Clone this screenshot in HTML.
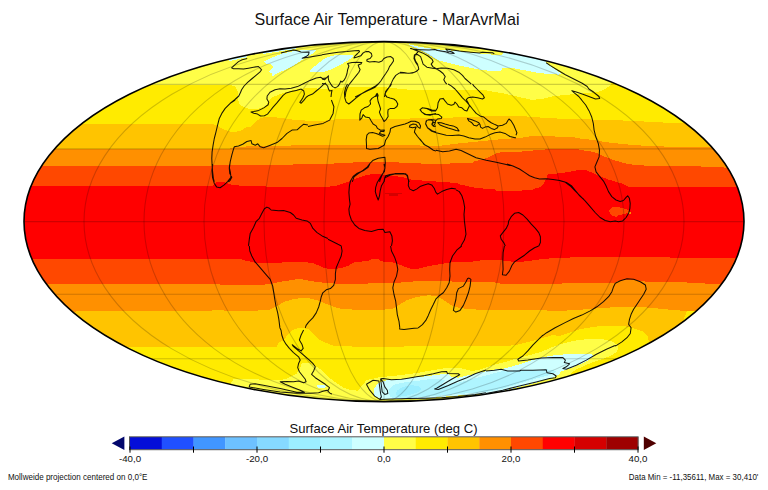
<!DOCTYPE html><html><head><meta charset="utf-8"><title>Surface Air Temperature</title>
<style>html,body{margin:0;padding:0;background:#fff;}svg{display:block;}text{font-family:"Liberation Sans",sans-serif;fill:#111;}</style></head><body>
<svg width="768" height="490" viewBox="0 0 768 490">
<rect width="768" height="490" fill="#fff"/>
<defs><clipPath id="c"><ellipse cx="384.0" cy="221.6" rx="360.0" ry="180.0"/></clipPath></defs>
<text x="387" y="24.6" font-size="16.2" text-anchor="middle" textLength="265" lengthAdjust="spacingAndGlyphs">Surface Air Temperature - MarAvrMai</text>
<g clip-path="url(#c)">
<g shape-rendering="crispEdges"><rect x="0" y="0" width="768" height="490" fill="#fffe47"/><polygon points="0.0,84.8 100.0,84.8 150.0,84.8 230.0,84.8 235.0,86.6 237.5,91.0 238.1,98.5 238.8,103.5 243.8,107.2 250.0,109.1 258.8,108.5 266.2,106.0 267.5,103.5 268.8,101.0 272.5,97.2 280.0,94.1 286.2,92.2 295.0,89.8 303.8,88.5 311.2,88.0 322.0,89.0 334.5,88.5 347.0,87.0 359.5,86.6 372.0,86.6 384.5,87.3 397.0,88.5 409.5,89.8 418.0,90.0 441.5,90.0 466.5,90.0 486.5,90.5 504.0,93.5 521.5,97.5 532.0,99.9 542.0,99.0 552.0,96.5 565.4,94.9 575.5,94.0 587.2,93.2 598.9,91.5 605.6,89.0 609.8,85.7 611.4,83.2 616.0,76.0 640.0,40.0 768.0,40.0 768.0,380.0 570.0,380.0 571.7,372.0 576.7,369.4 583.4,366.1 593.4,361.9 603.5,358.6 611.8,355.2 616.9,351.9 618.5,347.7 616.9,344.3 611.8,341.5 603.5,339.3 593.4,338.8 580.0,339.8 570.0,341.8 560.0,344.3 552.9,346.8 541.2,351.8 529.5,355.1 519.4,357.6 506.0,361.8 496.0,364.3 486.0,367.5 478.4,370.1 471.7,371.0 465.0,369.3 458.3,367.6 445.0,368.1 433.3,370.1 416.5,373.1 399.8,375.2 379.7,377.2 366.4,380.2 358.0,390.6 350.4,390.2 343.7,387.7 337.0,383.5 330.3,378.5 325.3,373.5 320.3,369.3 315.3,366.0 308.6,362.6 301.9,363.4 300.2,367.6 296.9,373.5 286.9,378.5 280.2,380.2 271.8,380.2 255.0,379.3 240.0,378.5 233.3,379.3 231.0,383.0 228.0,420.0 0.0,420.0" fill="#ffeb00"/><polygon points="20.0,123.7 180.0,124.2 196.7,123.7 210.0,123.7 216.0,125.0 221.8,128.4 228.5,131.4 235.2,132.1 241.9,130.1 246.9,126.8 250.0,127.0 255.0,122.2 260.0,118.5 266.2,116.6 273.8,117.0 282.5,118.2 292.5,119.5 305.0,120.5 317.5,120.8 326.0,120.5 340.0,119.0 400.0,118.7 436.0,118.0 452.7,117.5 469.4,116.7 486.2,116.4 502.9,115.9 519.6,115.9 529.6,116.7 539.7,117.5 553.0,118.4 564.0,118.7 580.7,119.2 597.4,119.7 614.2,120.1 630.9,120.9 647.6,121.7 664.3,122.6 681.0,123.1 687.7,123.4 760.0,123.5 660.0,380.0 652.0,350.0 650.0,343.0 648.6,340.2 647.8,336.0 643.6,331.8 633.6,328.5 623.5,326.0 610.0,325.5 593.4,326.8 580.0,329.3 570.0,332.6 560.0,336.0 552.9,335.0 541.2,338.4 529.5,341.7 516.1,345.0 502.7,346.4 486.0,346.4 404.0,346.5 352.0,346.5 333.7,345.9 325.3,342.5 318.6,339.2 313.6,334.2 308.6,329.5 302.0,327.6 297.0,328.3 291.9,330.5 287.7,335.0 283.5,340.0 278.5,342.5 277.0,346.7 262.0,346.7 212.0,346.5 10.0,346.8" fill="#ffc400"/><polygon points="20.0,148.5 230.2,148.5 235.2,146.8 263.6,146.0 308.0,145.2 340.0,145.5 375.0,144.8 404.0,145.2 425.0,145.6 440.0,145.8 461.0,143.2 481.7,141.1 502.5,139.0 520.0,138.0 526.0,136.9 532.5,136.1 554.0,136.1 556.0,136.9 574.0,136.9 575.0,138.0 582.5,138.7 593.0,140.0 600.0,141.3 614.2,143.1 630.9,144.8 647.6,146.0 664.3,146.5 692.0,146.8 760.0,147.5 768.0,312.0 693.7,311.0 677.0,310.4 660.0,308.7 643.6,307.2 627.0,306.7 610.0,307.5 593.4,308.7 576.7,310.0 560.0,310.9 542.9,310.4 509.4,310.4 489.4,310.4 476.0,309.5 465.0,308.7 458.4,307.5 451.7,305.4 446.7,302.0 441.6,298.7 436.6,296.2 429.9,295.3 423.3,295.8 414.9,297.5 406.5,300.3 399.8,304.5 393.2,308.7 381.4,309.9 364.7,310.4 348.0,309.2 343.7,309.2 337.0,307.9 330.4,305.4 323.7,302.9 317.0,300.3 308.6,298.2 300.3,298.2 291.9,299.5 283.5,302.0 276.9,306.2 270.2,309.5 253.4,310.9 236.7,310.9 220.0,310.4 212.0,310.5 10.0,312.0" fill="#ff9000"/><polygon points="10.0,166.5 180.0,166.0 212.0,165.5 246.9,164.9 280.0,164.6 308.0,164.4 325.0,163.9 341.0,163.2 358.0,162.2 375.0,161.5 392.0,162.2 410.0,163.0 436.0,164.2 450.4,163.9 450.5,163.0 473.0,163.0 474.0,161.6 478.5,160.4 483.8,159.0 489.0,157.0 494.0,154.3 498.3,152.8 502.5,152.0 520.0,151.8 526.0,151.0 539.0,150.0 549.0,149.1 578.0,149.1 580.0,150.0 587.0,151.0 593.0,151.8 598.0,153.5 604.1,156.5 614.2,160.2 624.2,163.2 634.2,164.9 647.6,165.7 664.3,166.0 701.0,166.5 723.5,167.5 768.0,168.0 768.0,284.0 708.0,283.7 688.7,282.6 672.0,281.7 655.3,282.1 643.5,281.4 630.2,279.7 618.5,280.9 613.4,283.4 596.7,283.4 580.0,282.6 551.0,284.1 526.0,284.1 501.0,283.6 492.7,282.0 476.0,282.5 461.7,282.0 445.0,281.1 431.6,280.8 418.2,281.1 406.5,282.0 394.8,283.1 381.4,283.1 364.7,283.6 348.0,284.1 337.0,283.6 327.0,283.1 317.0,282.0 307.0,280.3 300.3,279.1 295.3,279.4 286.9,280.8 278.5,282.0 270.2,284.1 253.4,285.3 236.7,285.3 220.0,284.5 10.0,284.0" fill="#ff4800"/><polygon points="10.0,186.5 200.0,186.2 213.4,185.5 216.7,181.6 221.7,181.6 230.1,184.1 233.4,185.4 255.0,185.8 267.0,186.6 328.0,186.8 336.2,185.8 342.5,183.7 348.8,181.6 357.1,178.0 363.3,175.9 371.7,174.1 380.0,174.3 384.2,175.2 392.5,175.9 400.8,176.9 407.0,178.0 410.0,179.3 416.0,180.3 434.0,180.9 436.0,181.7 449.6,182.3 452.0,183.0 458.0,183.5 460.0,184.6 464.2,185.1 466.2,186.1 472.5,187.2 476.7,187.9 483.0,188.5 490.0,188.9 495.2,189.4 496.0,190.5 507.7,190.5 508.5,191.3 521.2,191.3 522.0,190.5 531.7,189.8 535.8,188.4 539.0,187.4 541.0,186.3 543.1,184.2 544.7,181.6 546.2,179.5 547.3,176.4 547.8,174.3 552.5,174.1 560.0,173.2 568.4,172.0 576.7,170.4 585.1,169.9 591.8,172.4 598.5,175.7 606.8,179.0 615.2,181.6 623.5,184.1 628.6,186.6 643.6,187.1 688.0,187.1 768.0,187.5 768.0,258.0 701.0,258.0 651.0,257.2 604.0,256.9 576.3,257.4 559.6,257.7 542.9,259.0 526.2,261.4 514.5,261.9 501.0,260.2 484.4,259.7 476.0,261.4 461.7,261.9 448.3,262.7 438.3,264.4 428.3,266.1 418.2,268.6 411.5,269.1 403.2,266.1 394.8,262.9 390.0,262.0 383.0,261.5 379.8,260.4 378.8,259.4 371.5,259.4 369.4,260.4 362.0,261.5 354.8,262.3 351.7,263.5 349.6,265.1 345.4,266.7 341.2,267.9 337.0,268.8 334.0,269.3 326.7,268.5 322.5,267.2 318.3,265.4 314.2,263.5 310.0,262.7 305.0,262.3 283.0,262.0 282.0,262.7 255.0,262.7 250.8,261.7 246.7,260.7 242.5,260.2 241.5,259.2 230.0,258.9 10.0,258.5" fill="#ff0000"/><polygon points="609.3,210.0 612.7,207.1 618.5,207.1 623.5,208.3 628.6,210.0 629.4,212.5 626.9,213.3 623.5,214.2 618.5,215.0 616.9,216.7 612.7,216.2 609.8,213.8" fill="#ff4800"/><polygon points="627.7,211.7 631.0,211.7 631.0,213.8 627.7,213.8" fill="#ff9000"/><polygon points="384.5,192.5 402.0,192.5 402.0,194.0 397.5,194.0 397.5,195.6 389.0,195.6 389.0,194.0 384.5,194.0" fill="#d50000"/><polygon points="373.9,396.0 373.9,388.5 378.0,383.5 383.0,381.0 391.4,379.8 401.5,379.3 411.5,377.7 421.5,376.8 431.6,375.5 441.6,374.3 448.3,373.8 451.6,376.8 458.3,377.7 465.0,376.0 475.0,373.8 486.0,371.2 496.0,369.3 504.4,368.5 511.0,366.8 519.4,364.3 529.5,361.0 541.2,357.6 552.9,355.5 564.6,354.3 576.7,354.0 591.8,354.0 593.4,356.0 588.4,360.2 580.0,364.4 570.0,368.6 560.0,372.0 559.6,374.3 552.9,377.7 536.2,382.7 519.4,386.9 502.7,391.1 486.0,393.8 458.3,395.5 441.6,396.9 425.0,398.6 408.0,399.2 391.4,399.2 381.4,399.0" fill="#ceffff"/><polygon points="317.0,385.2 323.6,384.8 327.0,386.9 323.6,388.2 317.8,387.7" fill="#ceffff"/><polygon points="264.1,61.6 268.5,59.1 276.0,56.0 282.2,53.5 291.0,51.6 301.0,50.4 311.0,49.8 316.0,50.4 313.5,52.9 308.5,56.0 303.5,59.1 298.5,62.2 293.5,66.0 287.2,69.1 281.0,71.6 276.0,74.1 272.9,76.6 271.6,73.5 268.5,71.6 271.0,69.1 273.5,66.6 271.0,64.1 266.0,63.5" fill="#ceffff"/><polygon points="310.4,70.4 313.5,67.2 317.2,64.1 322.0,60.5 327.0,57.2 334.5,55.4 342.0,54.5 352.0,54.5 353.2,56.6 350.1,59.1 345.8,61.6 342.0,64.1 337.0,66.6 332.0,69.1 327.0,71.0 322.0,72.0 316.0,71.8 310.4,71.6" fill="#ceffff"/><polygon points="409.4,44.3 418.8,46.8 431.2,48.6 443.8,49.9 456.2,51.0 468.8,52.4 481.2,53.6 496.0,55.0 502.0,55.3 504.0,50.0 546.0,56.0 546.5,63.0 550.0,66.0 556.0,70.0 562.2,74.0 558.5,74.6 546.0,73.8 533.5,72.1 521.0,69.6 511.0,67.8 502.2,68.4 501.0,70.9 496.0,71.2 487.5,70.6 481.2,70.0 475.0,68.8 467.5,67.2 460.0,65.8 452.5,63.8 445.0,62.0 437.5,60.0 432.5,57.2 427.5,53.5 421.2,50.4 415.0,47.9 409.4,45.2" fill="#ceffff"/><polygon points="229.0,58.1 232.0,57.4 235.0,56.7 238.0,56.1 241.0,55.4 244.0,54.8 247.0,54.1 247.0,57.3 244.0,58.0 241.0,58.6 238.0,59.3 235.0,59.9 232.0,60.6 229.0,61.3" fill="#ceffff"/><polygon points="262.0,51.3 265.0,50.7 268.0,50.2 271.0,49.7 274.0,49.2 277.0,48.7 280.0,48.3 283.0,47.8 286.0,47.4 289.0,47.0 292.0,46.6 295.0,46.2 296.0,49.1 293.0,49.4 290.0,49.8 287.0,50.3 284.0,50.7 281.0,51.1 278.0,51.6 275.0,52.0 272.0,52.5 269.0,53.0 266.0,53.5 263.0,54.1" fill="#ceffff"/><polygon points="389.8,396.9 388.9,390.2 393.1,385.2 399.8,383.2 408.2,381.8 416.5,381.0 428.2,379.3 438.3,378.5 445.0,380.2 441.6,383.5 445.0,385.2 458.3,382.7 471.7,379.2 486.0,375.5 502.7,371.0 519.4,370.2 536.2,370.2 546.2,369.3 552.9,370.2 556.2,371.8 549.5,375.2 536.2,378.5 519.4,383.5 502.7,388.5 486.0,391.9 458.0,394.0 441.0,395.5 425.0,397.0 408.0,398.0 395.0,398.5" fill="#aff5ff"/><polygon points="395.6,394.4 397.3,390.2 403.2,386.9 411.5,385.2 418.2,386.0 421.5,388.5 418.2,391.9 411.5,394.4 404.8,396.0 398.1,396.9" fill="#9ceeff"/></g>
<g fill="none" stroke="#000" stroke-opacity="0.19" stroke-width="1.1"><ellipse cx="384.0" cy="221.6" rx="60" ry="180.0"/><ellipse cx="384.0" cy="221.6" rx="120" ry="180.0"/><ellipse cx="384.0" cy="221.6" rx="180" ry="180.0"/><ellipse cx="384.0" cy="221.6" rx="240" ry="180.0"/><ellipse cx="384.0" cy="221.6" rx="300" ry="180.0"/><line x1="384.0" y1="41.599999999999994" x2="384.0" y2="401.6"/><line x1="0" y1="221.6" x2="768" y2="221.6"/><line x1="0" y1="294.3" x2="768" y2="294.3"/><line x1="0" y1="148.89999999999998" x2="768" y2="148.89999999999998"/><line x1="0" y1="358.79999999999995" x2="768" y2="358.79999999999995"/><line x1="0" y1="84.4" x2="768" y2="84.4"/></g>
<path d="M247.2 58.5 L242.2 59.8 L238.5 61.6 L234.8 64.8 L231.6 67.9 L233.5 68.8 L238.5 68.8 L243.5 69.1 L248.5 68.2 L253.5 67.2 L258.5 66.6 L260.4 68.5 L261.6 69.8 L259.8 72.2 L256.0 75.4 L252.2 78.5 L247.9 82.2 L244.1 86.0 L241.6 89.8 L240.5 92.5 M281.0 52.9 L284.8 52.0 L288.5 51.0 L293.5 50.0 L297.2 50.8 L301.0 52.0 L306.0 52.2 L309.1 52.0 L308.5 54.8 L306.0 56.6 L302.2 58.2 L308.5 57.2 L316.0 56.0 L322.0 55.0 M240.6 92.2 L238.8 96.0 L235.0 99.5 L230.0 103.5 M326.0 77.9 L322.5 78.5 L320.6 77.2 L316.2 77.9 L310.0 80.4 L303.8 83.5 L297.5 86.6 L291.2 88.2 L285.0 89.1 L280.0 88.8 L275.0 89.8 L270.0 92.2 L267.2 96.0 L266.9 99.1 L268.8 102.2 L268.1 104.8 L263.8 107.9 L258.8 110.4 L253.8 111.6 L251.0 112.0 L253.8 113.2 L257.5 114.1 L260.6 116.0 L264.4 115.8 L267.5 114.1 L270.0 111.0 L273.1 107.2 L276.9 102.9 L280.0 99.1 L283.1 95.4 L286.2 92.9 L291.2 91.6 L296.2 90.4 L301.2 89.1 L303.8 91.0 L304.4 94.1 L303.1 97.2 L301.2 100.4 L299.8 102.2 L301.2 103.2 L303.8 100.4 L306.2 97.2 L308.8 95.4 L312.5 94.1 L316.2 91.0 L320.0 87.9 L323.1 84.8 L326.0 82.9 M322.0 54.8 L329.5 53.5 L338.2 52.2 L347.0 51.6 L354.5 50.8 L358.9 50.4 L359.5 51.6 L357.6 53.5 L355.1 55.8 L353.9 57.9 L356.4 57.2 L360.8 55.8 L363.2 52.9 L365.8 51.6 L368.9 51.6 L371.4 53.5 L372.0 56.0 L370.1 58.5 L367.0 59.5 L366.8 61.0 L369.5 62.0 L374.5 61.6 L378.9 62.2 L382.0 61.0 L383.9 58.5 L387.0 57.0 L390.8 56.6 L393.2 58.5 L393.5 61.0 L391.4 64.1 L389.5 66.6 L388.2 69.8 L385.8 73.5 L383.2 77.2 L380.8 81.0 L378.2 84.1 L375.1 87.2 L371.4 89.1 L367.0 91.0 L362.0 93.5 L358.2 95.4 L355.1 97.0 M345.1 97.0 L345.8 92.2 L347.0 88.5 L348.9 84.8 L351.4 81.6 L353.9 78.5 L356.4 75.4 L358.9 72.2 L360.1 69.5 L358.9 67.2 L358.2 65.0 L360.8 64.1 L361.8 62.5 L357.0 62.2 L352.0 62.5 L347.6 63.5 L348.9 66.0 L347.6 69.8 L347.0 73.5 L345.8 77.2 L343.9 80.4 L342.0 82.2 L340.8 81.0 L339.5 84.1 L337.6 86.6 L335.1 87.9 L332.6 86.6 L330.8 84.1 L328.9 81.0 L328.2 77.9 L328.5 75.8 L326.4 77.9 L324.5 79.8 L322.0 79.1 M322.0 83.5 L325.8 84.1 L327.6 86.0 L328.5 89.1 L329.5 91.0 L332.0 90.4 L331.4 93.5 L331.0 97.0 M418.0 70.4 L414.5 72.2 L409.5 73.2 L404.5 72.9 L399.5 72.9 L395.8 75.4 L393.2 79.1 L391.4 82.9 L389.5 86.6 L387.0 90.4 L385.1 93.5 L384.5 97.0 M410.1 48.5 L413.2 49.1 L418.0 49.8 M418.0 52.0 L415.1 54.8 L414.5 57.9 L415.8 61.6 L418.0 64.8 M375.8 97.0 L376.4 94.1 L377.6 97.0 M235.2 100.0 L230.2 103.3 L225.2 108.4 L221.8 113.4 L219.3 118.4 L217.6 125.1 L216.0 131.8 L214.3 138.5 L213.1 145.2 L212.1 151.8 L211.8 158.5 L212.1 165.2 L212.6 171.9 L213.4 178.6 L214.3 181.9 M307.9 125.1 L303.7 124.2 L300.4 126.8 L297.1 129.8 L292.0 130.1 L287.0 133.4 L282.0 138.5 L277.0 142.6 L270.3 145.2 L263.6 147.7 L260.3 146.8 L257.8 143.8 L255.3 145.2 L251.9 143.8 L251.1 140.5 L246.9 141.5 L242.7 144.3 L238.5 146.0 L234.3 146.8 L233.2 150.2 L231.8 155.2 L230.2 161.9 L229.3 168.6 L229.8 173.6 L231.8 177.3 L230.2 180.3 L228.5 181.9 M212.5 164.0 L212.0 170.7 L212.5 177.4 L214.2 183.2 L216.7 187.1 L220.1 187.7 L224.2 184.9 L227.6 181.6 L230.9 177.4 L230.4 172.4 L229.3 167.3 L229.8 164.0 M248.5 245.9 L249.3 239.3 L250.2 233.4 L253.5 227.5 L256.0 221.7 L259.4 218.3 L261.9 213.3 L264.4 208.8 L266.9 207.1 L269.4 208.3 L271.1 210.0 L278.6 210.8 L283.6 210.5 L290.3 212.5 L293.6 215.0 L296.2 218.3 L302.0 220.0 L307.0 220.9 L310.4 223.4 L312.9 228.4 L317.1 232.6 L322.1 235.9 L327.9 238.4 M331.4 100.0 L333.9 106.7 L333.1 113.4 L329.7 120.1 L323.1 123.4 L314.7 125.1 L308.0 126.4 M352.3 181.9 L354.0 176.9 L358.2 173.6 L363.2 170.2 L367.4 166.9 L369.9 163.5 L373.2 160.2 L378.2 158.2 L384.9 157.2 L385.3 162.7 L384.9 168.6 L383.3 172.7 L381.6 176.1 L379.9 180.3 L379.6 181.9 M384.1 181.9 L384.9 177.8 L389.9 175.3 L396.6 173.6 L403.3 173.6 L407.5 175.3 L408.3 179.4 L409.2 181.9 M436.0 150.2 L442.7 151.8 L449.4 151.0 L456.1 149.3 L461.1 150.5 L467.8 153.8 L476.1 157.7 L486.2 160.2 L496.2 162.2 L506.2 164.4 L509.6 165.4 M347.5 84.0 L345.6 87.8 L344.4 92.8 L344.8 97.8 L346.2 102.1 L348.8 104.0 L351.9 101.5 L356.2 97.8 L361.2 94.0 L366.2 90.9 L371.2 88.4 L375.6 85.9 L378.1 84.0 M391.5 84.0 L390.0 86.5 L387.5 89.0 L385.6 91.5 L385.2 94.6 L386.9 97.1 L390.0 98.0 L393.8 99.0 L396.2 100.9 L397.8 104.0 L396.9 106.5 L394.4 108.4 L390.6 108.4 L388.1 109.6 L387.8 112.8 L388.1 116.5 L386.2 119.6 L384.0 121.5 L382.5 118.4 L380.6 115.2 L379.4 112.1 L380.6 109.0 L379.4 105.2 L378.1 101.5 L377.5 97.8 L378.1 95.2 L377.2 93.4 L375.6 95.9 L371.9 98.4 L370.0 100.9 L370.6 104.0 L368.1 106.5 L364.4 107.8 L361.2 110.2 L360.0 114.0 L359.8 120.2 L361.9 117.8 L363.1 114.6 L365.6 117.1 L369.4 117.8 L371.2 120.9 L373.1 124.0 L376.2 125.9 L377.5 128.4 L380.6 130.2 L384.4 130.0 L383.8 131.5 L380.6 131.5 L379.4 133.4 L382.5 134.6 L385.0 135.2 L382.5 136.2 L378.8 134.6 L376.2 133.4 L372.5 132.5 L368.8 133.0 L366.9 135.2 L366.2 139.6 L366.5 145.0 M384.4 145.0 L385.6 140.2 L388.1 136.5 L390.0 132.1 L390.6 128.4 L395.0 126.5 L400.0 125.2 L405.0 124.0 L408.1 122.8 L411.2 121.2 L415.0 121.2 L418.8 122.8 L420.6 125.9 L420.0 128.4 L418.1 127.1 L416.2 124.6 L413.1 124.0 L410.0 125.2 L409.4 127.1 L412.5 127.8 L416.2 127.1 L415.0 129.6 L414.4 132.1 L417.5 136.5 L421.2 140.9 L425.0 145.0 L428.4 146.8 L433.4 150.2 L436.0 151.0 M436.0 110.0 L432.5 110.2 L427.5 108.4 L422.5 107.8 L420.0 109.6 L421.9 112.1 L426.2 114.6 L431.2 114.6 L436.0 113.4 M436.0 120.2 L431.2 119.6 L426.9 120.2 L425.6 123.4 L427.5 127.8 L432.5 130.9 L436.0 132.1 M436.0 122.1 L433.1 122.8 L431.9 124.6 L433.8 126.5 L436.0 125.9 M472.5 84.0 L473.8 85.9 L476.9 89.0 L480.0 92.1 L483.1 95.2 L484.4 97.8 L482.5 99.0 L477.5 97.8 L472.5 97.1 L468.1 97.8 L466.2 99.6 L468.1 102.8 L469.4 105.9 L468.1 108.4 L466.9 110.9 L464.4 110.2 L461.9 107.8 L458.8 107.1 L456.9 104.0 L455.0 102.1 L453.8 104.6 L451.2 105.2 L447.5 104.0 L445.0 100.9 L443.1 98.4 L440.0 99.0 L438.1 102.8 L437.5 107.8 L435.6 110.9 L431.2 110.9 L426.2 108.4 L422.5 107.8 L420.0 109.6 L421.9 112.1 L425.0 114.6 L430.0 115.2 L433.8 114.0 L438.8 114.6 L441.9 117.1 L441.2 118.4 L437.5 119.0 L435.6 120.9 L435.0 124.0 L433.1 125.9 L431.9 124.0 L433.1 121.5 L431.9 120.2 L428.8 119.6 L426.2 120.9 L425.6 124.0 L427.5 127.8 L431.2 130.9 L436.2 132.8 L441.2 134.0 L446.2 135.2 L452.5 135.5 L458.8 135.0 L463.8 135.9 L468.8 137.8 L475.0 139.0 L480.0 139.0 L485.0 137.1 L490.0 134.6 L495.0 132.8 L500.0 132.1 L505.0 133.4 L510.0 136.5 L515.0 137.8 L516.0 137.8 M448.1 84.0 L451.2 85.9 L455.0 89.0 L458.8 93.4 L462.5 97.8 L466.2 101.5 L469.4 105.2 L472.5 109.0 L476.2 113.4 L480.0 115.9 L483.8 117.1 L487.5 120.2 L491.2 122.8 L495.0 124.6 L498.1 125.9 L497.5 127.8 L494.4 129.6 L491.2 128.4 L488.1 126.5 L485.0 127.1 L482.5 128.4 L480.6 127.1 L480.0 124.6 L478.8 122.8 L475.0 120.9 L471.2 119.6 L467.5 118.4 L468.8 120.9 L471.9 122.8 L473.8 125.2 L476.9 125.9 L478.8 124.0 M498.1 125.9 L502.5 125.2 L506.2 123.4 L508.1 120.2 L509.0 119.0 L511.2 120.9 L513.8 125.2 L515.6 129.6 L516.9 132.8 L516.0 135.2 M437.5 122.5 L441.2 122.8 L445.0 124.0 L449.4 125.2 L453.1 125.9 L456.9 127.8 L459.0 130.9 L456.2 130.5 L452.5 129.2 L448.1 128.0 L443.8 126.5 L440.0 125.0 L437.5 122.5 M420.0 139.0 L421.9 141.5 L424.4 145.0 M410.7 48.4 L414.0 49.4 L420.7 49.7 L429.1 50.0 L434.9 49.4 L437.4 50.5 L445.8 51.7 L449.2 53.1 L454.2 53.4 L451.7 51.7 L447.5 51.0 L445.8 48.9 L449.2 49.4 L459.2 51.0 L470.9 52.2 L479.3 53.1 L482.6 52.2 L492.6 52.7 L494.3 53.9 M400.0 72.2 L403.8 72.5 L407.5 73.2 L412.5 72.9 L416.2 71.6 L418.8 69.1 L418.1 66.0 L415.6 62.2 L414.0 58.5 L414.4 54.8 L417.5 54.5 L420.6 56.6 L421.9 60.4 L423.1 64.1 L426.9 67.2 L432.5 68.2 L436.2 68.8 L441.2 67.9 L447.5 68.2 L453.8 69.8 L458.8 72.2 L462.5 75.4 L465.0 78.5 L470.0 82.9 L471.2 84.0 M411.2 48.5 L416.2 50.4 L422.5 52.9 L428.1 56.0 L431.9 59.1 L433.1 61.6 L431.2 64.1 L432.8 66.6 L436.2 68.8 L440.0 71.0 L443.1 73.5 L445.2 76.6 L443.8 79.8 L445.6 82.9 L446.8 84.0 M546.2 62.7 L550.4 65.6 L557.1 69.8 L565.4 74.8 L573.8 79.0 L582.2 83.2 L587.2 86.5 L588.9 89.0 L593.9 92.3 L598.9 96.5 L599.7 98.5 L595.5 99.0 L588.9 96.5 L582.2 94.0 L575.5 91.8 L571.8 90.7 L574.6 93.2 L578.8 96.5 L581.8 100.2 M581.6 100.0 L585.7 105.0 L589.1 110.9 L591.6 116.7 L593.3 123.4 L594.1 130.1 L595.8 136.8 L598.3 143.5 L599.5 150.2 L599.1 156.9 L596.6 162.7 L594.9 166.9 L596.1 171.9 L600.0 176.9 L604.1 181.9 M369.8 164.0 L368.1 167.3 L363.1 170.7 L357.3 173.2 L353.1 176.5 L350.6 180.7 L349.4 185.7 L348.9 192.4 L349.4 199.1 L350.1 204.1 L348.9 209.2 L349.4 214.2 L351.4 220.0 L354.8 225.0 L358.9 228.4 L364.8 230.6 L371.5 231.4 L378.2 229.6 L383.2 229.2 L384.9 232.6 L389.9 231.7 L391.9 235.9 L392.4 240.9 L391.5 245.9 M384.0 164.0 L384.9 167.3 L384.5 171.5 L382.3 174.0 L379.8 178.2 L377.3 182.4 L375.7 187.4 L375.3 191.6 L376.5 195.8 L378.2 200.0 L379.5 195.8 L380.2 190.8 L381.5 185.7 L384.0 181.6 L384.9 177.4 L385.7 175.7 L389.9 174.4 L394.9 173.7 L399.9 174.0 L405.8 173.7 L407.4 176.5 L408.6 180.7 L408.3 185.7 L409.9 189.1 L413.3 190.8 L416.6 189.1 L420.0 186.6 L424.2 184.9 L428.3 183.7 L431.7 184.9 L434.2 188.2 L435.9 192.4 L437.5 194.1 L441.7 191.6 L446.7 189.4 L451.7 188.2 L455.9 189.1 M328.0 239.3 L333.0 241.8 L338.0 244.3 L341.4 245.9 M456.0 189.9 L459.3 191.6 L461.9 195.8 L463.5 200.8 L464.7 207.5 L464.0 214.2 L464.4 220.9 L465.2 227.5 L466.0 234.2 L464.4 240.1 L461.9 244.3 L461.0 245.9 M507.0 164.0 L512.9 166.0 L519.5 169.0 L524.6 172.4 L529.6 175.7 L534.6 177.7 L539.6 179.1 L546.3 178.7 L553.0 179.4 L559.7 180.4 L566.4 182.4 L571.4 185.7 L575.6 190.8 L579.7 195.8 L583.9 199.5 M505.3 245.9 L503.7 242.6 L501.2 239.3 L500.3 235.9 L502.8 232.6 L506.2 228.4 L508.2 224.2 L508.7 220.9 L511.2 216.7 L514.5 213.3 L518.7 212.5 L522.9 215.0 L527.1 219.2 L531.3 224.2 L535.4 228.4 L538.8 232.6 L540.4 236.7 L540.4 242.6 L538.8 245.9 M560.0 180.7 L565.0 182.1 L570.0 185.7 L575.1 190.8 L580.1 195.8 L585.1 200.8 L590.1 206.6 L595.1 212.5 L600.1 217.5 L605.2 220.5 L610.2 221.7 L615.2 220.9 L618.5 221.7 L622.7 220.9 L626.1 217.5 L628.6 213.3 L629.9 208.3 L630.2 203.3 L629.4 198.3 L627.7 195.8 L626.1 197.4 L623.5 200.5 L620.2 201.6 L616.0 200.0 L611.8 196.6 L608.5 191.6 L606.0 185.7 L604.0 182.1 M249.3 246.0 L249.8 251.0 L251.8 256.0 L255.1 261.9 L260.1 267.7 L265.2 273.6 L270.2 279.4 L272.7 286.1 L273.8 292.8 L274.8 299.5 L276.0 306.2 L277.7 312.9 L278.9 319.6 L279.9 327.9 M341.2 246.0 L342.1 251.0 L341.2 256.0 L338.7 261.9 L336.2 267.7 L335.4 273.6 L335.4 279.4 L333.7 285.3 L330.4 288.6 L326.2 289.8 L322.8 292.8 L321.2 297.0 L320.3 301.2 L318.7 307.0 L316.2 312.9 L312.8 317.9 L308.6 322.1 L306.1 325.4 L305.3 327.9 M390.6 246.0 L391.5 251.0 L394.5 256.9 L396.5 262.7 L397.8 269.4 L396.5 276.1 L394.0 282.0 L392.8 287.8 L394.0 294.5 L395.7 301.2 L396.5 307.9 L397.3 314.6 L399.0 321.3 L399.8 327.9 M461.7 246.0 L456.7 250.2 L452.5 256.0 L450.0 262.7 L449.7 269.4 L450.0 276.1 L449.2 282.8 L446.7 287.8 L443.3 292.8 L439.1 295.8 L435.8 299.2 L433.3 304.5 L430.8 309.5 L428.3 315.4 L425.8 320.4 L422.4 324.6 L418.2 327.9 M469.2 278.1 L470.9 279.4 L470.1 286.1 L468.4 292.8 L465.9 299.5 L463.4 305.4 L460.0 310.4 L455.9 312.1 L453.4 310.4 L454.2 306.2 L455.9 299.5 L456.7 292.8 L458.4 288.6 L463.4 286.1 L465.9 282.0 L467.6 278.6 L469.2 278.1 M504.4 246.0 L503.1 252.7 L502.8 261.1 L503.1 269.4 L502.4 274.8 L506.1 275.3 L509.4 271.1 L512.0 265.2 L514.5 261.9 L519.5 258.5 L524.5 255.2 L529.5 251.0 L534.5 247.7 L538.7 246.0 M540.0 337.7 L546.7 332.7 L555.1 327.7 L565.1 322.6 L573.4 318.5 L581.8 315.1 L590.2 310.9 L596.9 306.8 L603.5 301.7 L608.6 296.7 L611.9 291.7 L613.6 286.7 L615.3 283.3 L620.3 280.8 L627.0 278.7 L633.6 279.2 L640.3 281.7 L645.4 285.0 L646.2 289.2 L643.7 294.2 L640.3 299.2 L637.0 304.2 L633.6 309.3 L631.1 314.3 L629.5 319.3 L628.6 324.3 L631.1 327.7 L630.3 333.5 L627.0 337.7 L621.9 341.9 L615.3 346.1 M612.9 346.4 L614.5 345.8 L616.0 345.4 M366.5 145.0 L366.5 148.5 L369.9 149.3 L378.2 148.5 L383.2 145.8 L384.4 145.0 M279.9 328.0 L281.0 330.0 M418.2 328.0 L414.0 328.3 L404.0 329.5 L399.6 329.0 L399.8 328.0 M542.9 335.1 L537.8 340.1 L532.8 345.1 L527.8 350.9 L522.8 356.0 L517.8 359.3 L518.6 361.0 L527.8 360.1 L541.2 358.1 L552.9 357.6 L562.9 357.6 L565.4 360.1 L564.3 362.6 L569.6 363.8 L566.3 366.8 L562.9 368.5 L566.3 369.3 L576.3 365.2 L586.3 360.1 L596.4 354.3 L606.4 349.3 L613.9 345.9 M486.0 371.0 L494.4 370.2 L501.1 369.3 L507.7 371.0 L519.4 371.0 L521.1 370.2 L532.8 370.2 L546.2 369.7 L547.0 372.7 L552.9 373.8 L556.2 376.0 L555.4 377.7 L549.5 378.5 L536.2 381.9 L519.4 386.1 L502.7 390.2 L486.0 393.6 M366.4 384.3 L373.1 380.2 L378.9 381.0 L379.7 386.9 L380.6 393.5 L381.4 396.9 L379.7 399.4 L374.7 396.1 L369.7 390.2 L366.4 384.3 M380.6 378.8 L383.1 378.5 L391.4 379.8 L401.5 379.3 L408.2 378.2 L416.5 376.8 L424.9 375.5 L433.3 373.8 L441.6 371.8 L446.6 371.5 L447.5 373.5 L458.3 373.8 L459.7 374.8 L451.6 379.3 L443.3 384.3 L436.6 388.2 L434.6 388.9 L438.3 389.4 L448.3 385.5 L458.3 381.0 L466.7 377.7 L475.1 373.8 L485.9 370.1 M380.6 378.8 L381.4 385.2 L382.2 391.9 L384.8 394.4 L387.8 393.5 L387.3 390.2 L384.8 386.9 L383.1 381.8 L380.6 378.8 M379.7 399.4 L391.4 398.9 L408.2 398.6 L424.9 398.2 L441.6 397.7 L458.3 396.6 L475.1 394.4 L485.9 392.7 M281.0 330.0 L281.8 335.0 L283.5 340.0 L286.0 344.2 L289.4 348.4 L293.5 352.6 L298.6 356.8 L300.2 360.1 L298.6 363.4 L297.7 367.6 L299.4 371.8 L302.7 376.0 L305.3 379.3 L306.1 381.8 L303.6 382.7 L298.6 381.0 L293.5 381.8 L286.9 381.5 L280.2 381.8 L285.2 384.3 L291.9 386.9 L300.2 390.2 L304.4 392.2 L296.9 392.2 L280.2 388.5 L263.4 385.2 L255.1 383.8 L250.1 384.3 L249.2 386.9 L253.4 387.7 L263.4 389.4 L280.2 391.9 L296.9 393.2 L310.3 393.2 L318.6 392.7 L323.6 391.0 L327.0 390.2 L330.3 393.5 L332.0 393.9 M303.6 330.0 L301.1 335.0 L299.4 340.0 L301.9 344.2 L303.2 348.4 L301.1 350.9 L296.9 348.4 L292.2 344.7 L293.5 346.7 L298.6 350.9 L303.6 355.1 L308.6 359.3 L312.8 363.4 L315.3 366.8 L313.6 371.0 L311.6 374.3 L315.3 377.7 L320.3 381.0 L325.3 384.3 L329.5 387.7 L327.8 391.0 L330.3 393.5" fill="none" stroke="#000" stroke-opacity="0.9" stroke-width="1.05" stroke-linejoin="round"/>
</g>
<ellipse cx="384.0" cy="221.6" rx="360.0" ry="180.0" fill="none" stroke="#000" stroke-width="1.6"/>
<rect x="130.00" y="437" width="32.05" height="12.5" fill="#040ed8"/>
<rect x="161.75" y="437" width="32.05" height="12.5" fill="#2050ff"/>
<rect x="193.50" y="437" width="32.05" height="12.5" fill="#4196ff"/>
<rect x="225.25" y="437" width="32.05" height="12.5" fill="#6dc1ff"/>
<rect x="257.00" y="437" width="32.05" height="12.5" fill="#86d9ff"/>
<rect x="288.75" y="437" width="32.05" height="12.5" fill="#9ceeff"/>
<rect x="320.50" y="437" width="32.05" height="12.5" fill="#aff5ff"/>
<rect x="352.25" y="437" width="32.05" height="12.5" fill="#ceffff"/>
<rect x="384.00" y="437" width="32.05" height="12.5" fill="#fffe47"/>
<rect x="415.75" y="437" width="32.05" height="12.5" fill="#ffeb00"/>
<rect x="447.50" y="437" width="32.05" height="12.5" fill="#ffc400"/>
<rect x="479.25" y="437" width="32.05" height="12.5" fill="#ff9000"/>
<rect x="511.00" y="437" width="32.05" height="12.5" fill="#ff4800"/>
<rect x="542.75" y="437" width="32.05" height="12.5" fill="#ff0000"/>
<rect x="574.50" y="437" width="32.05" height="12.5" fill="#d50000"/>
<rect x="606.25" y="437" width="32.05" height="12.5" fill="#9e0000"/>
<rect x="129.5" y="436.8" width="508.60" height="12.9" fill="none" stroke="#555" stroke-width="1"/>
<line x1="130.00" y1="446.5" x2="130.00" y2="452.7" stroke="#000" stroke-width="1"/>
<line x1="193.50" y1="446.5" x2="193.50" y2="452.7" stroke="#000" stroke-width="1"/>
<line x1="257.00" y1="446.5" x2="257.00" y2="452.7" stroke="#000" stroke-width="1"/>
<line x1="320.50" y1="446.5" x2="320.50" y2="452.7" stroke="#000" stroke-width="1"/>
<line x1="384.00" y1="446.5" x2="384.00" y2="452.7" stroke="#000" stroke-width="1"/>
<line x1="447.50" y1="446.5" x2="447.50" y2="452.7" stroke="#000" stroke-width="1"/>
<line x1="511.00" y1="446.5" x2="511.00" y2="452.7" stroke="#000" stroke-width="1"/>
<line x1="574.50" y1="446.5" x2="574.50" y2="452.7" stroke="#000" stroke-width="1"/>
<line x1="638.00" y1="446.5" x2="638.00" y2="452.7" stroke="#000" stroke-width="1"/>
<polygon points="111.7,443.2 124.4,436.4 124.4,450" fill="#02076c"/>
<polygon points="656.3,443.2 643.8,436.4 643.8,450" fill="#4f0000"/>
<text x="383.5" y="432.8" font-size="13" text-anchor="middle" textLength="188" lengthAdjust="spacingAndGlyphs">Surface Air Temperature (deg C)</text>
<text x="130.0" y="461.8" font-size="9.7" text-anchor="middle">-40,0</text>
<text x="257.0" y="461.8" font-size="9.7" text-anchor="middle">-20,0</text>
<text x="384.0" y="461.8" font-size="9.7" text-anchor="middle">0,0</text>
<text x="511.0" y="461.8" font-size="9.7" text-anchor="middle">20,0</text>
<text x="638.0" y="461.8" font-size="9.7" text-anchor="middle">40,0</text>
<text x="7.9" y="480.2" font-size="8.2" textLength="139.6" lengthAdjust="spacingAndGlyphs">Mollweide projection centered on 0,0°E</text>
<text x="628.8" y="480.2" font-size="8.2" textLength="129.6" lengthAdjust="spacingAndGlyphs">Data Min = -11,35611, Max = 30,410'</text>
</svg></body></html>
